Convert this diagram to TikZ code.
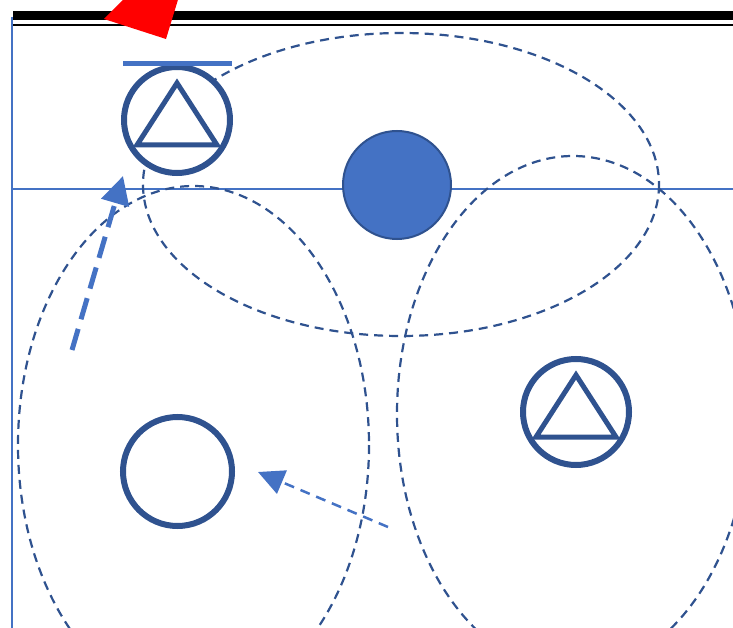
\documentclass[tikz,border=0pt]{standalone}
\usetikzlibrary{arrows.meta,positioning}
\definecolor{darkblue}{HTML}{2F528F}
\definecolor{midblue}{HTML}{4472C4}

\begin{document}
\begin{tikzpicture}[x=1pt,y=-1pt,>={Triangle[length=28pt,width=28pt]}]
	\useasboundingbox (0,0) rectangle (733,628);
	\clip (0,0) rectangle (733,628);
	\tikzset{every node/.style={circle,minimum size=106pt,inner sep=0pt,line width=6pt,draw=darkblue}}
	\tikzset{zone/.style={draw=darkblue,line width=2.2pt,dash pattern=on 9pt off 6pt}}
	\tikzset{tri/.style={draw=darkblue,line width=5pt}}
	\tikzset{rule/.style={draw=midblue,line width=1.2pt}}
	% frame lines
	\draw[black,line width=9pt] (13,15.5) -- (733,15.5);
	\draw[black,line width=2.5pt] (13,25) -- (733,25);
	\draw[rule] (12,17) -- (12,628);
	\draw[rule] (12,189) -- (733,189);
	% dashed zones
	\draw[zone] (401,184.5) ellipse [x radius=258, y radius=151.5];
	\draw[zone] (193.5,445) ellipse [x radius=175.5, y radius=259];
	\draw[zone] (573,414) ellipse [x radius=176, y radius=258];
	% devices
	\node[fill=white] (A) at (177,120) {};
	\node[fill=midblue,line width=2pt,minimum size=108pt] (B) at (397,185) {};
	\node[fill=white] (C) at (576,412) {};
	\node[minimum size=109pt] (D) at (177.5,471.5) {};
	\foreach \n in {A,C}
	\draw[tri] ([shift={(0,-37)}]\n.center) -- ([shift={(-40,25)}]\n.center) -- ([shift={(40,25)}]\n.center) -- cycle;
	\draw[midblue,line width=5pt] ([shift={(-54,0)}]A.north) -- ([shift={(55,0)}]A.north);
	\fill[red] (104,19) -- (166,39) -- (202,-79) -- cycle;
	% moves
	\coordinate (s1) at (72,350);
	\coordinate (e1) at (123,176);
	\coordinate (s2) at (388,527);
	\coordinate (e2) at (258,472);
	\draw[->,midblue,line width=5pt,dash pattern=on 22pt off 10pt] (s1) -- (e1);
	\draw[->,midblue,line width=2.5pt,dash pattern=on 10pt off 7pt,>={Triangle[length=26pt,width=25pt]}] (s2) -- (e2);
\end{tikzpicture}
\end{document}
